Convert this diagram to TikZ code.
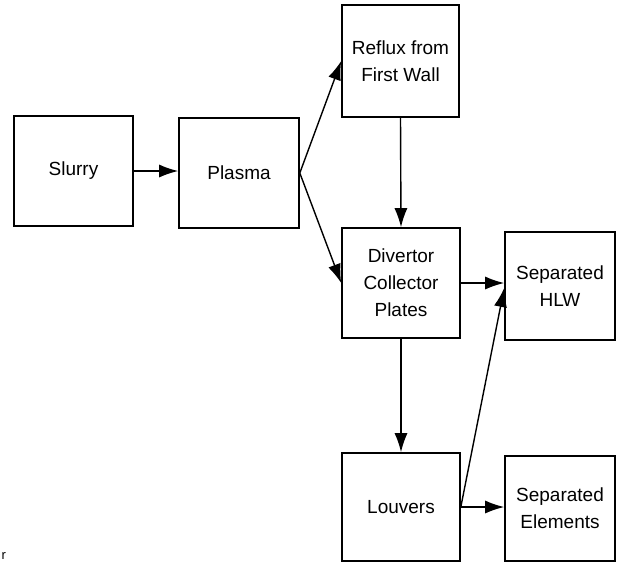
\documentclass[tikz,border=0pt]{standalone}
\usepackage{fontspec}
\setmainfont{Liberation Sans}
\usetikzlibrary{arrows.meta}
\begin{document}
\begin{tikzpicture}[x=1pt,y=-1pt,>={Latex[length=19pt,width=13pt]},
  box/.style={draw,line width=1.6pt,align=center,inner sep=0pt,
    font=\fontsize{19}{27}\selectfont},
  flow/.style={->,line width=1.4pt}]
            \useasboundingbox (0,0) rectangle (617,563);
            \node[box,minimum width=119pt,minimum height=110pt] (slurry) at (73.5,171) {Slurry};
            \node[box,minimum width=120pt,minimum height=110pt] (plasma) at (239,173) {Plasma};
            \node[box,minimum width=117pt,minimum height=112pt] (reflux) at (400.5,61) {Reflux from\\First Wall};
            \node[box,minimum width=118pt,minimum height=110pt] (divertor) at (401,283) {Divertor\\Collector\\Plates};
            \node[box,minimum width=110pt,minimum height=108pt] (hlw) at (560,286) {Separated\\HLW};
            \node[box,minimum width=118pt,minimum height=108pt] (louvers) at (401,507) {Louvers};
            \node[box,minimum width=110pt,minimum height=105pt] (elements) at (560,508.5) {Separated\\Elements};
            \node[anchor=south west,inner sep=0pt,font=\fontsize{13}{13}\selectfont] (mark) at (1.5,560) {r};
            \draw[flow] (slurry.east) -- (slurry.east -| plasma.west);
            \draw[flow] (plasma.east) -- (reflux.west);
            \draw[flow] (plasma.east) -- (divertor.west);
            \draw[flow] (reflux.south) -- (divertor.north);
            \draw[flow] (divertor.east) -- (divertor.east -| hlw.west);
            \draw[flow] (divertor.south) -- (louvers.north);
            \draw[flow] (louvers.east) -- (louvers.east -| elements.west);
            \draw[flow] (louvers.east) -- ([yshift=-2pt]hlw.west);
        \end{tikzpicture}
\end{document}
